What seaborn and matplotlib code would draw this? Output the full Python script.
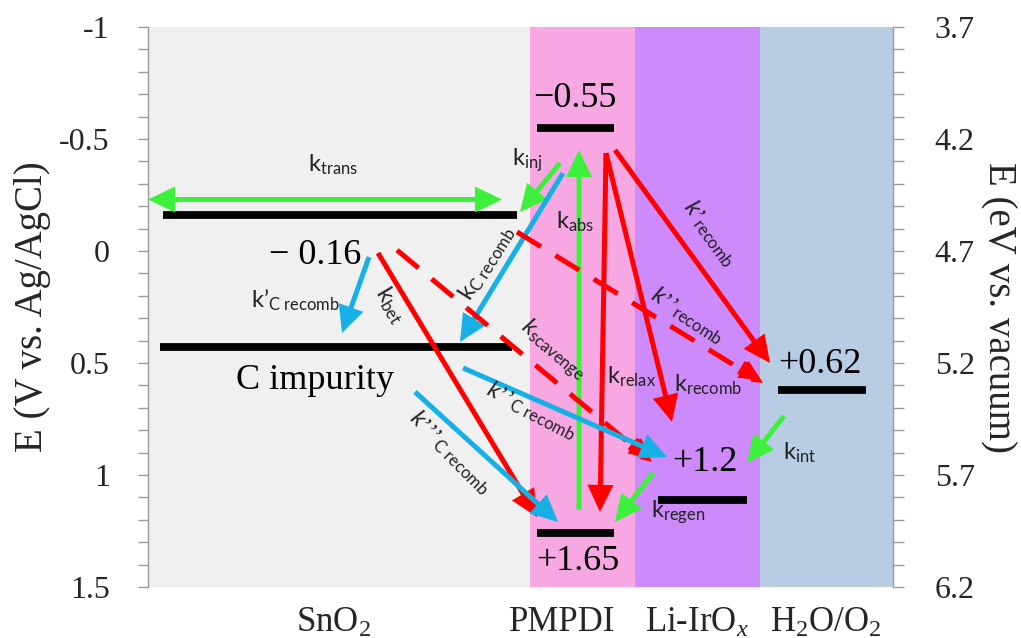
import matplotlib
matplotlib.use("Agg")
import matplotlib.pyplot as plt
import seaborn as sns
import pandas as pd

# ---- energy levels (E in V vs. Ag/AgCl, x in column units) ----
level_names = ["SnO2 CB", "C impurity", "PMPDI LUMO", "PMPDI HOMO", "Li-IrOx", "H2O/O2"]
level_E = [-0.16, 0.43, -0.55, 1.26, 1.11, 0.62]
level_x0 = [0.15, 0.12, 3.89, 3.89, 5.10, 6.30]
level_x1 = [3.69, 3.64, 4.66, 4.66, 5.99, 7.18]

value_texts = ["\u22120.55", "\u2212 0.16", "C impurity", "+0.62", "+1.2", "+1.65"]
value_x = [4.27, 1.67, 1.67, 6.72, 5.57, 4.30]
value_E = [-0.68, 0.018, 0.576, 0.505, 0.946, 1.388]

# ---- materials (column edges along x) ----
materials = ["SnO$_2$", "PMPDI", "Li-IrO$_\\mathcal{x}$", "H$_2$O/O$_2$"]
material_edges = [0.0, 3.82, 4.87, 6.12, 7.45]
material_label_x = [1.85, 4.14, 5.49, 6.78]
material_colors = ["#f0f0f0", "#f7a8e3", "#cd8afa", "#b8cce4"]

# ---- kinetic processes: start/end points (x, E) ----
proc_names = ["trans", "inj", "Crecomb", "abs", "relax", "recomb", "recomb1",
              "recomb2", "scavenge", "bet", "Crecomb1", "Crecomb2", "Crecomb3",
              "regen", "int"]
proc_x0 = [0.00, 4.12, 4.15, 4.31, 4.58, 4.58, 4.67, 3.69, 2.49, 2.30, 2.21, 3.15, 2.67, 5.05, 6.36]
proc_E0 = [-0.23, -0.393, -0.348, 1.156, -0.4375, -0.4375, -0.451, -0.085, -0.004, 0.009, 0.027, 0.522, 0.629, 0.991, 0.737]
proc_x1 = [3.54, 3.72, 3.12, 4.31, 4.52, 5.24, 6.22, 6.15, 5.04, 3.89, 1.94, 5.19, 4.10, 4.67, 5.99]
proc_E1 = [-0.23, -0.174, 0.406, -0.451, 1.165, 0.763, 0.500, 0.589, 0.942, 1.1875, 0.366, 0.920, 1.210, 1.210, 0.946]
proc_kind = ["fwd", "fwd", "trap", "fwd", "loss", "loss", "loss", "lossd", "lossd",
             "loss", "trap", "trap", "trap", "fwd", "fwd"]

proc_labels = [r"$\mathsf{k_{trans}}$", r"$\mathsf{k_{inj}}$", r"$\mathsf{k_{C\ recomb}}$",
               r"$\mathsf{k_{abs}}$", r"$\mathsf{k_{relax}}$", r"$\mathsf{k_{recomb}}$",
               r"$\mathit{k’}_{\mathsf{recomb}}$", r"$\mathit{k’’}_{\mathsf{recomb}}$",
               r"$\mathit{k}_{\mathsf{scavenge}}$", r"$\mathsf{k_{bet}}$",
               r"$\mathsf{k’_{C\ recomb}}$", r"$\mathit{k’’}_{\mathsf{C\ recomb}}$",
               r"$\mathit{k’’’}_{\mathsf{C\ recomb}}$", r"$\mathsf{k_{regen}}$",
               r"$\mathsf{k_{int}}$"]
label_x = [1.85, 3.79, 3.39, 4.27, 4.84, 5.60, 5.62, 5.40, 4.05, 2.42, 1.47, 3.84, 3.02, 5.30, 6.52]
label_E = [-0.384, -0.406, 0.054, -0.13, 0.5625, 0.598, -0.08, 0.286, 0.442, 0.241, 0.219, 0.71, 0.897, 1.165, 0.902]
label_rot = [0, 0, 58, 0, 0, 0, -54, -33, -40, -59, 0, -27, -45, 0, 0]

left_ticks = [-1, -0.5, 0, 0.5, 1, 1.5]
left_ticklabels = ["-1", "-0.5", "0", "0.5", "1", "1.5"]
right_ticks = [3.7, 4.2, 4.7, 5.2, 5.7, 6.2]
vacuum_offset = 4.7

# ---- style ----
sns.set_theme(style="ticks")
plt.rcParams.update({
    "font.family": ["Liberation Serif", "DejaVu Serif"],
    "mathtext.fontset": "custom",
    "mathtext.rm": "Liberation Serif",
    "mathtext.sf": "Lato",
    "mathtext.it": "Lato:italic",
    "mathtext.cal": "Liberation Serif:italic",
    "axes.unicode_minus": False,
})

colors = {"fwd": "#3cf03c", "trap": "#17b0e6", "loss": "#ff0000", "lossd": "#ff0000"}
axis_grey = "#9a9a9a"

fig = plt.figure(figsize=(10.21, 6.38), dpi=100)
ax = fig.add_axes([148 / 1021, 1 - 587 / 638, 745 / 1021, 560 / 638])
ax.set_facecolor("white")

# material backgrounds
for i in range(len(materials)):
    ax.axvspan(material_edges[i], material_edges[i + 1], color=material_colors[i], lw=0, zorder=0)

# energy levels
lv = pd.DataFrame({
    "level": level_names * 2,
    "x": level_x0 + level_x1,
    "E": level_E * 2,
})
sns.lineplot(data=lv, x="x", y="E", units="level", estimator=None, sort=False,
             color="black", linewidth=5.6, legend=False, ax=ax, zorder=3,
             solid_capstyle="butt")

# kinetic arrows
for i in range(len(proc_names)):
    kind = proc_kind[i]
    style = "<|-|>" if proc_names[i] == "trans" else "-|>"
    ls = (0, (5.6, 3.4)) if kind == "lossd" else "-"
    ax.annotate("", xy=(proc_x1[i], proc_E1[i]), xytext=(proc_x0[i], proc_E0[i]),
                arrowprops=dict(arrowstyle=f"{style},head_length=0.75,head_width=0.36",
                                color=colors[kind], lw=3.6, linestyle=ls,
                                shrinkA=0, shrinkB=0, mutation_scale=18,
                                capstyle="butt", joinstyle="miter"),
                zorder=4)

for i in range(len(proc_labels)):
    ax.text(label_x[i], label_E[i], proc_labels[i], fontsize=17, color="#222222",
            ha="center", va="center", rotation=label_rot[i], rotation_mode="anchor",
            zorder=5)

for i in range(len(value_texts)):
    ax.text(value_x[i], value_E[i], value_texts[i], fontsize=26, color="black",
            ha="center", va="center", zorder=5)

# axes
ax.set_xlim(material_edges[0], material_edges[-1])
ax.set_ylim(1.5, -1)
ax.set_yticks(left_ticks)
ax.set_yticklabels(left_ticklabels)
ax.yaxis.set_minor_locator(matplotlib.ticker.MultipleLocator(0.1))
ax.set_xticks(material_label_x)
ax.set_xticklabels(materials)
ax.tick_params(axis="x", length=0, pad=14, labelsize=25)
ax.tick_params(axis="y", which="both", direction="out", length=7.5, width=1,
               color=axis_grey, labelsize=23, pad=20)
ax.set_xlabel("")
ax.set_ylabel("E (V vs. Ag/AgCl)", fontsize=28, labelpad=6)
for s in ["top", "bottom", "right"]:
    ax.spines[s].set_visible(False)
ax.spines["left"].set_color(axis_grey)
ax.spines["left"].set_linewidth(1)

sec = ax.secondary_yaxis("right", functions=(lambda e: e + vacuum_offset,
                                             lambda v: v - vacuum_offset))
sec.set_yticks(right_ticks)
sec.set_yticklabels([f"{t:.1f}" for t in right_ticks])
sec.yaxis.set_minor_locator(matplotlib.ticker.MultipleLocator(0.1))
sec.tick_params(axis="y", which="both", direction="out", length=8, width=1,
                color=axis_grey, labelsize=23, pad=22)
sec.spines["right"].set_color(axis_grey)
sec.spines["right"].set_linewidth(1)
sec.set_ylabel("E (eV vs. vacuum)", fontsize=28, rotation=270, labelpad=30)

fig.savefig("out.png", dpi=100)
